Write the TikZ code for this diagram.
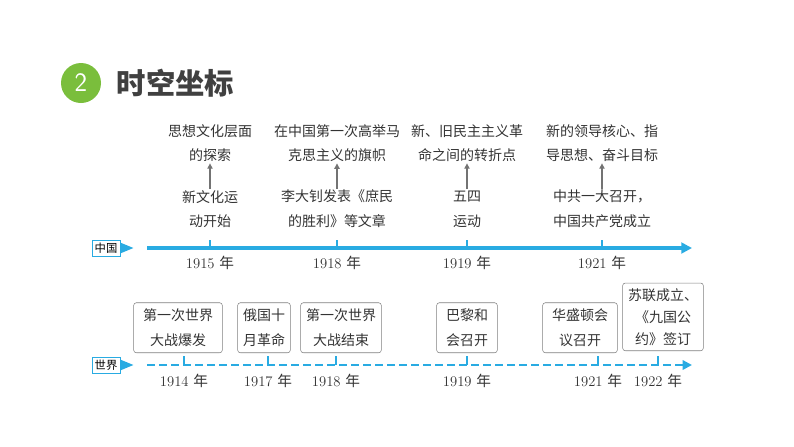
\documentclass[tikz,border=0pt]{standalone}
\usepackage{fontspec}
\newfontfamily\cjk{Noto Sans CJK SC}
\usetikzlibrary{arrows.meta,shapes.geometric}
\definecolor{lineblue}{RGB}{41,171,226}
\definecolor{titlegreen}{RGB}{122,190,60}
\begin{document}
\begin{tikzpicture}[x=0.75pt,y=-0.75pt]
    \tikzstyle{event} = [font=\cjk\fontsize{10.5}{18.5}\selectfont, align=center, text=black!80, inner sep=1pt];
    \tikzstyle{evbox} = [event, draw=black!50, rounded corners=2pt, inner ysep=4pt, inner xsep=7pt, minimum height=50*0.75pt];
    \tikzstyle{year} = [font=\fontsize{11}{13}\selectfont, text=black!80];
    \tikzstyle{tag} = [draw=lineblue, font=\cjk\fontsize{8.5}{10}\selectfont, inner sep=2pt, minimum width=28*0.75pt];
    \tikzstyle{marrow} = [black!55, thick, -{Triangle[length=4pt,width=4pt]}];

    \useasboundingbox (0,0) rectangle (794,447);

    % title
    \node[circle, fill=titlegreen, minimum size=40*0.75pt, inner sep=0pt, text=white,
          font=\sffamily\fontsize{20}{20}\selectfont] (num) at (81,83) {2};
    \node[anchor=west, font=\cjk\bfseries\fontsize{22}{22}\selectfont, text=black!75] (title) at (112,83) {时空坐标};

    % China line
    \node[tag] (cn) at (106,248) {中国};
    \node[isosceles triangle, fill=lineblue, minimum size=8pt, inner sep=0pt, anchor=west] (cnt) at (cn.east) {};
    \coordinate (cn-s) at (147,248);
    \coordinate (cn-e) at (692,248);
    \draw[lineblue, line width=2.5pt, -{Triangle[length=8pt,width=8pt]}] (cn-s) -- (cn-e);

    \foreach \x/\yr/\low/\high [count=\i] in {
        210/1915/{新文化运\\动开始}/{思想文化层面\\的探索},
        337/1918/{李大钊发表《庶民\\的胜利》等文章}/{在中国第一次高举马\\克思主义的旗帜},
        467/1919/{五四\\运动}/{新、旧民主主义革\\命之间的转折点},
        602/1921/{中共一大召开，\\中国共产党成立}/{新的领导核心、指\\导思想、奋斗目标}} {
        \coordinate (CT-\i) at (\x,240);
        \draw[lineblue, line width=1pt] (CT-\i) -- (\x,248);
        \node[year] (CY-\i) at (\x,263) {\yr\ {\cjk 年}};
        \node[event] (CL-\i) at (\x,209) {\low};
        \node[event] (CH-\i) at (\x,143) {\high};
        \draw[marrow] (CL-\i.north) -- (CH-\i.south);
    }

    % World line
    \node[tag] (wd) at (106,365) {世界};
    \node[isosceles triangle, fill=lineblue, minimum size=8pt, inner sep=0pt, anchor=west] (wdt) at (wd.east) {};
    \coordinate (wd-s) at (147,365);
    \coordinate (wd-e) at (692,365);
    \draw[lineblue, line width=1.8pt, dash pattern=on 6pt off 3pt, -{Triangle[length=7pt,width=7pt]}] (wd-s) -- (wd-e);

    \foreach \x/\yr [count=\i] in {184/1914, 268/1917, 336/1918, 467/1919, 598/1921, 658/1922} {
        \draw[lineblue, line width=1pt] (\x,356) -- (\x,365);
        \node[year] (WY-\i) at (\x,381) {\yr\ {\cjk 年}};
    }
    \node[evbox, anchor=south] (WB-1) at (178,353) {第一次世界\\大战爆发};
    \node[evbox, anchor=south, inner xsep=4pt] (WB-2) at (264,353) {俄国十\\月革命};
    \node[evbox, anchor=south, inner xsep=4pt] (WB-3) at (341,353) {第一次世界\\大战结束};
    \node[evbox, anchor=south] (WB-4) at (467,353) {巴黎和\\会召开};
    \node[evbox, anchor=south] (WB-5) at (580,353) {华盛顿会\\议召开};
    \node[evbox, anchor=south, inner xsep=4pt, font=\cjk\fontsize{10.5}{16.5}\selectfont] (WB-6) at (663,351) {苏联成立、\\《九国公\\约》签订};
\end{tikzpicture}
\end{document}
